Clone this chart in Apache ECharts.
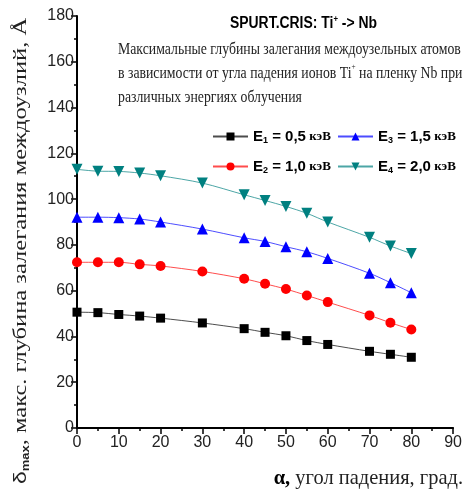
<!DOCTYPE html>
<html>
<head>
<meta charset="utf-8">
<script src="https://cdn.jsdelivr.net/npm/echarts@6/dist/echarts.min.js"></script>
<style>
  html, body { margin: 0; padding: 0; background: #fff; }
  #chart { width: 465px; height: 495px; }
</style>
</head>
<body>
<div id="chart"></div>
<script>
// угол падения, град.
const angles = [0, 5, 10, 15, 20, 30, 40, 45, 50, 55, 60, 70, 75, 80];
// глубина, Å
const e1 = [50.6, 50.4, 49.6, 48.9, 48.0, 45.9, 43.4, 41.8, 40.3, 38.2, 36.5, 33.5, 32.2, 30.9];
const e2 = [72.4, 72.4, 72.4, 71.5, 70.8, 68.4, 65.2, 63.0, 60.7, 57.9, 55.0, 49.2, 46.0, 43.0];
const e3 = [92.1, 92.1, 91.9, 91.3, 90.0, 86.9, 83.1, 81.5, 79.2, 77.0, 74.1, 67.6, 63.5, 59.1];
const e4 = [113.0, 112.2, 112.1, 111.4, 110.2, 107.0, 101.9, 99.4, 96.8, 93.8, 90.0, 83.3, 79.5, 76.2];
const energies = { E1: '0,5', E2: '1,0', E3: '1,5', E4: '2,0' };

const sans = '"Liberation Sans", Arial, sans-serif';
const serif = '"Liberation Serif", "DejaVu Serif", serif';

const pairs = arr => angles.map((a, i) => [a, arr[i]]);

var chart = echarts.init(document.getElementById('chart'));

const mkSeries = (name, data, color, symbol, size, rot) => ({
  name: name,
  type: 'line',
  data: pairs(data),
  smooth: 0.3,
  symbol: symbol,
  symbolSize: size,
  symbolRotate: rot || 0,
  showAllSymbol: true,
  lineStyle: { color: color, width: 1, opacity: 0.7 },
  itemStyle: { color: color },
  emphasis: { disabled: true },
  z: 3
});

const legendRich = {
  e: { fontFamily: sans, fontWeight: 'bold', fontSize: 15, color: '#000' },
  s: { fontFamily: sans, fontWeight: 'bold', fontSize: 9, color: '#000', verticalAlign: 'bottom', padding: [8, 0, 0, 0] },
  t: { fontFamily: sans, fontWeight: 'bold', fontSize: 15, color: '#000' },
  k: { fontFamily: serif, fontWeight: 'bold', fontSize: 13, color: '#000' }
};
const legendFmt = name => `{e|E}{s|${name.slice(1)}}{t| = ${energies[name]}} {k|кэВ}`;

const legendBase = {
  orient: 'vertical',
  itemWidth: 35,
  itemHeight: 10,
  itemGap: 14,
  formatter: legendFmt,
  textStyle: { rich: legendRich },
  selectedMode: false
};

chart.setOption({
  animation: false,
  grid: { left: 77, right: 6, top: 16, bottom: 67 },
  legend: [
    Object.assign({ left: 207, top: 124, data: ['E1', 'E2'] }, legendBase),
    Object.assign({ left: 332, top: 124, data: ['E3', 'E4'] }, legendBase)
  ],
  xAxis: {
    type: 'value',
    min: 0, max: 90, interval: 10,
    axisLine: { lineStyle: { color: '#000', width: 2 } },
    axisTick: { length: 6, lineStyle: { color: '#000', width: 1.5 } },
    minorTick: { show: true, splitNumber: 2, length: 3, lineStyle: { color: '#000', width: 1.5 } },
    axisLabel: { fontFamily: sans, fontSize: 16, color: '#222', margin: 7 },
    splitLine: { show: false }
  },
  yAxis: {
    type: 'value',
    min: 0, max: 180, interval: 20,
    axisLine: { show: true, lineStyle: { color: '#000', width: 2 } },
    axisTick: { show: true, length: 6, lineStyle: { color: '#000', width: 1.5 } },
    minorTick: { show: true, splitNumber: 2, length: 3, lineStyle: { color: '#000', width: 1.5 } },
    axisLabel: { fontFamily: sans, fontSize: 16, color: '#222', margin: 3 },
    splitLine: { show: false }
  },
  series: [
    mkSeries('E1', e1, '#000000', 'rect', 9),
    mkSeries('E2', e2, '#ff0000', 'circle', 10),
    mkSeries('E3', e3, '#0000ff', 'triangle', 11),
    mkSeries('E4', e4, '#008080', 'triangle', 11, 180)
  ],
  graphic: [
    {
      type: 'text', x: 230, y: 15, scaleX: 0.87,
      style: {
        text: '{a|SPURT.CRIS: Ti}{p|+}{a| -> Nb}',
        rich: {
          a: { fontFamily: sans, fontWeight: 'bold', fontSize: 16, fill: '#000' },
          p: { fontFamily: sans, fontWeight: 'bold', fontSize: 9, fill: '#000', verticalAlign: 'top', padding: [0, 0, 8, 0] }
        }
      }
    },
    {
      type: 'text', x: 118, y: 38, scaleX: 0.81,
      style: {
        text: '{a|Максимальные глубины залегания междоузельных атомов}\n' +
              '{a|в зависимости от угла падения ионов Ti}{p|+}{a| на пленку Nb при}\n' +
              '{a|различных энергиях облучения}',
        rich: {
          a: { fontFamily: serif, fontSize: 17, lineHeight: 24, fill: '#222' },
          p: { fontFamily: serif, fontSize: 9, lineHeight: 24, fill: '#222', verticalAlign: 'top', padding: [0, 0, 10, 0] }
        }
      }
    },
    {
      type: 'text', x: 21, y: 251, rotation: Math.PI / 2, scaleY: 0.8,
      style: {
        text: '{d|δ}{m|max}{a|, макс. глубина залегания междоузлий, Å}',
        align: 'center', verticalAlign: 'middle',
        rich: {
          d: { fontFamily: sans, fontSize: 23, fill: '#222' },
          m: { fontFamily: sans, fontWeight: 'bold', fontSize: 13, fill: '#222', verticalAlign: 'bottom', padding: [11, 0, 0, 0] },
          a: { fontFamily: serif, fontSize: 24.5, fill: '#222' }
        }
      }
    },
    {
      type: 'text', x: 463, y: 478, scaleX: 0.93,
      style: {
        text: '{b|α,}{a| угол падения, град.}',
        align: 'right', verticalAlign: 'middle',
        rich: {
          b: { fontFamily: serif, fontWeight: 'bold', fontSize: 22, fill: '#000' },
          a: { fontFamily: serif, fontSize: 22, fill: '#222' }
        }
      }
    }
  ]
});
</script>
</body>
</html>
